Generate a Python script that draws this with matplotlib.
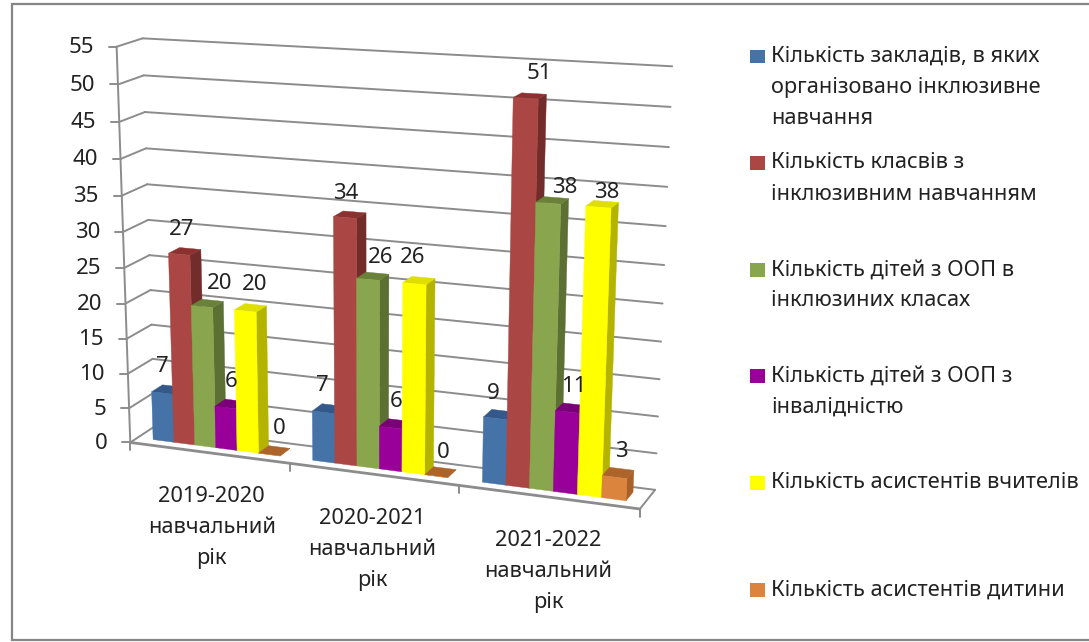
import numpy as np
import matplotlib
matplotlib.use("Agg")
import matplotlib.pyplot as plt
from matplotlib.patches import Polygon, Rectangle

categories = [["2019-2020", "навчальний", "рік"],
              ["2020-2021", "навчальний", "рік"],
              ["2021-2022", "навчальний", "рік"]]
zaklady = [7, 7, 9]
klasy = [27, 34, 51]
dity_oop = [20, 26, 38]
dity_inv = [6, 6, 11]
asist_vch = [20, 26, 38]
asist_dyt = [0, 0, 3]
series_values = [zaklady, klasy, dity_oop, dity_inv, asist_vch, asist_dyt]
legend_lines = [["Кількість закладів, в яких", "організовано інклюзивне", "навчання"],
                ["Кількість класвів з", "інклюзивним навчанням"],
                ["Кількість дітей з ООП в", "інклюзиних класах"],
                ["Кількість дітей з ООП з", "інвалідністю"],
                ["Кількість асистентів вчителів"],
                ["Кількість асистентів дитини"]]
y_ticks = list(range(0, 60, 5))

front = ["#4572A7", "#AA4643", "#89A54E", "#990099", "#FFFF00", "#DB843D"]
top = ["#34588A", "#8B3230", "#6A8139", "#7A0078", "#DEDE00", "#AC642A"]
side = ["#2F4F78", "#722D2B", "#5D7034", "#660066", "#B3B300", "#A85F28"]
GRID = "#8C8C8C"
INK = "#222222"
FONT = "Noto Sans"

# hand-placed label offsets of the original (pixels), by category then series
label_dx = [[-6, -4, 11, -1, 3, 4], [-7, -5, 7, 0, -7, 2], [-7, 8, 11, 1, 4, 2]]
label_dy = [[0, 1, 3, 1, 0, 1], [0, 2, 4, 1, 0, 3], [2, 1, 10, 1, 11, 2]]
cat_dx = [4, 0, 1]

# ---- camera: projective map (category position, value, depth) -> pixels
cal = [(0, 0, 0, 131.7, 441.7), (1, 0, 0, 290, 463.5), (2, 0, 0, 458, 486), (3, 0, 0, 640, 510),
       (0, 0, 1, 153, 428), (3, 0, 1, 655, 488), (0, 55, 0, 115, 46.7), (0, 55, 1, 143, 39),
       (3, 55, 1, 672, 66.7), (0, 30, 0, 124, 231), (0, 30, 1, 149, 219), (3, 30, 1, 665, 265)]
rows = []
for u, v, d, x, y in cal:
    P = [u / 3, v / 55, d, 1]
    x, y = x / 1000, y / 1000
    rows.append(P + [0, 0, 0, 0] + [-x * c for c in P])
    rows.append([0, 0, 0, 0] + P + [-y * c for c in P])
M = np.linalg.svd(np.array(rows))[2][-1].reshape(3, 4)


def proj(u, v, d):
    w = M @ np.array([u / 3, v / 55, d, 1])
    return 1000 * w[0] / w[2], 1000 * w[1] / w[2]


fig = plt.figure(figsize=(10.89, 6.42), dpi=100)
ax = fig.add_axes([0, 0, 1, 1])
ax.set_xlim(0, 1089)
ax.set_ylim(642, 0)
ax.axis("off")

# outer frame: the right side is cut off by the image edge
ax.plot([1089, 12, 12, 1089], [4, 4, 640, 640], color="#868686", lw=1.6, solid_joinstyle="miter", zorder=0)


def seg(a, b, lw=1.4, color=GRID):
    ax.plot([a[0], b[0]], [a[1], b[1]], color=color, lw=lw, solid_capstyle="round", zorder=1)


for t in y_ticks:
    seg(proj(0, t, 0), proj(0, t, 1))
    if t > 0:
        seg(proj(0, t, 1), proj(3, t, 1))
    x, y = proj(0, t, 0)
    seg((x - 8, y), (x, y))
    ax.text(x - 23, y + 1, str(t), ha="right", va="center", fontsize=16, family=FONT, color=INK)
seg(proj(0, 0, 0), proj(0, 55, 0))
seg(proj(0, 0, 1), proj(3, 0, 1))
seg(proj(3, 0, 0), proj(3, 0, 1))
seg(proj(0, 0, 0), proj(3, 0, 0), lw=2)
for i in range(4):
    x, y = proj(i, 0, 0)
    seg((x, y), (x, y + 8))

# ---- bars
GAP = 0.1
W = (1 - 2 * GAP) / 6
D0, D1 = 0.3, 0.75
for c in range(3):
    for s, vals in enumerate(series_values):
        v = vals[c]
        u0, u1 = c + GAP + s * W, c + GAP + (s + 1) * W
        faces = [
            ([(u1, 0, D0), (u1, 0, D1), (u1, v, D1), (u1, v, D0)], side[s]),
            ([(u0, v, D0), (u1, v, D0), (u1, v, D1), (u0, v, D1)], top[s]),
            ([(u0, 0, D0), (u1, 0, D0), (u1, v, D0), (u0, v, D0)], front[s]),
        ]
        for pts, col in faces:
            ax.add_patch(Polygon([proj(*p) for p in pts], closed=True, fc=col, ec=col, lw=0.3, zorder=3))

# ---- data labels
for c in range(3):
    for s, vals in enumerate(series_values):
        v = vals[c]
        u = c + GAP + (s + 0.5) * W
        x, y = proj(u, v, (D0 + D1) / 2)
        ax.text(x + 1 + label_dx[c][s], y - 23 + label_dy[c][s], str(v), ha="center", va="center",
                fontsize=16, family=FONT, color=INK, zorder=5)

# ---- category labels
for c, lines in enumerate(categories):
    x, y = proj(c + 0.5, 0, 0)
    for k, line in enumerate(lines):
        ax.text(x - 1 + cat_dx[c], y + 44 + 31 * k, line, ha="center", va="center", fontsize=15.7,
                family=FONT, color=INK)

# ---- legend
entry_y = [56.5, 163, 270, 376, 483, 590]
for s, lines in enumerate(legend_lines):
    ax.add_patch(Rectangle((750, entry_y[s] - 7), 15, 13.5, fc=front[s], ec="none"))
    for k, line in enumerate(lines):
        ax.text(771, entry_y[s] + 31 * k, line, ha="left", va="center", fontsize=15.7, family=FONT, color=INK)

fig.savefig("out.png", dpi=100)
